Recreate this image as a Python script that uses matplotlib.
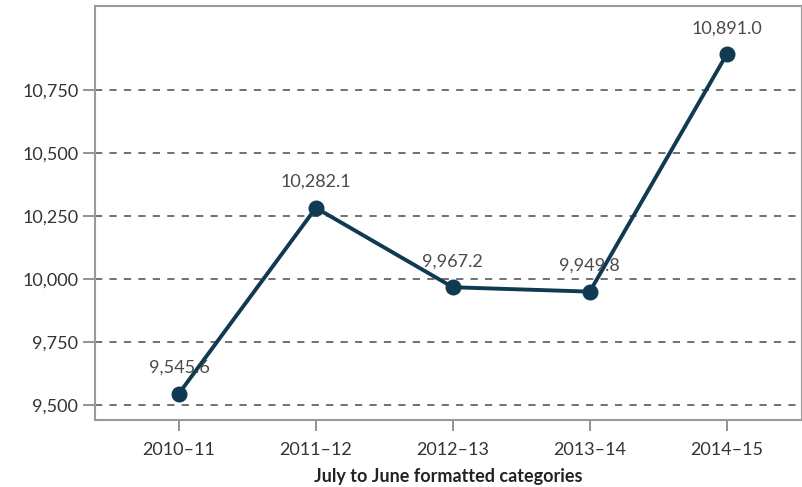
import matplotlib.pyplot as plt
from matplotlib.ticker import FuncFormatter

# data
years = ["2010–11", "2011–12", "2012–13", "2013–14", "2014–15"]
values = [9545.6, 10282.1, 9967.2, 9949.8, 10891.0]
yticks = [9500, 9750, 10000, 10250, 10500, 10750]

plt.rcParams['font.family'] = ['Lato', 'DejaVu Sans']

fig = plt.figure(figsize=(8.02, 4.87), dpi=100)
ax = fig.add_axes([95 / 802, 67 / 487, 1 - 95 / 802, 414 / 487])

x = list(range(len(years)))
ax.plot(x, values, color="#0f3a51", lw=2.8, marker="o", ms=10.5,
        solid_capstyle="round", zorder=3)

for xi, v in zip(x, values):
    ax.annotate(f"{v:,.1f}", (xi, v), xytext=(0, 13), textcoords="offset points",
                ha="center", va="bottom", fontsize=13, color="#4a4a4a", zorder=4)

ax.set_xlim(-0.613, 4.55)
ax.set_ylim(9440.5, 11083)
ax.set_xticks(x)
ax.set_xticklabels(years)
ax.set_yticks(yticks)
ax.yaxis.set_major_formatter(FuncFormatter(lambda v, p: f"{v:,.0f}"))

ax.grid(axis="y", color="#666666", ls=(0, (4, 4)), lw=1.3)
ax.set_axisbelow(True)

for s in ax.spines.values():
    s.set_color("#9a9a9a")
    s.set_linewidth(1.5)

ax.tick_params(axis="y", length=9, width=1.3, color="#8a8a8a", labelsize=13,
               labelcolor="#333333", pad=3)
ax.tick_params(axis="x", length=8, width=1.3, color="#8a8a8a", labelsize=13,
               labelcolor="#333333", pad=8)

ax.set_xlabel("July to June formatted categories", fontsize=13, fontweight="bold",
              color="#222222", labelpad=7)

fig.savefig("out.png", dpi=100)
